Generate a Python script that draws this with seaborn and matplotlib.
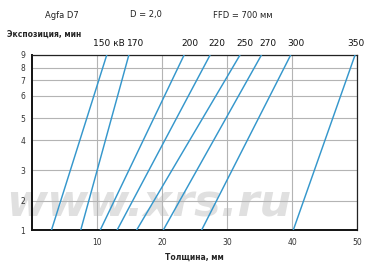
import numpy as np
import pandas as pd
import matplotlib
matplotlib.use("Agg")
import matplotlib.pyplot as plt
import matplotlib.transforms as mtransforms
import seaborn as sns

# ---- data ----
kv_labels = ["150 кВ", "170", "200", "220", "250", "270", "300", "350"]
thick_at_1min = [3.0, 7.5, 10.5, 13.1, 16.1, 20.2, 26.1, 40.2]
thick_at_9min = [11.5, 14.9, 23.4, 27.4, 32.0, 35.3, 39.8, 49.7]
exposure_ends = [1, 9]
label_x = [11.8, 16.0, 24.3, 28.5, 32.8, 36.3, 40.6, 49.8]

# nomogram y-scale (exposure value -> relative position of the printed gridline)
y_ticks = [1, 2, 3, 4, 5, 6, 7, 8, 9]
y_pos = [0, 29.3, 59.7, 90.0, 111.7, 134.3, 149.7, 162.3, 175.0]
x_ticks = [10, 20, 30, 40, 50]

rows = []
for lab, a, b in zip(kv_labels, thick_at_1min, thick_at_9min):
    rows.append({"kv": lab, "t": a, "e": exposure_ends[0]})
    rows.append({"kv": lab, "t": b, "e": exposure_ends[1]})
df = pd.DataFrame(rows)

sns.set_style("white")
plt.rcParams["font.family"] = ["DejaVu Sans"]

yv = np.array([0.0] + y_ticks + [20.0])
yp = np.array([-29.3] + y_pos + [175.0 + 12.7 * 11])
def fwd(y):
    return np.interp(y, yv, yp)
def inv(p):
    return np.interp(p, yp, yv)

fig = plt.figure(figsize=(3.8, 2.64), dpi=100)
ax = fig.add_axes([32/380, 34/264, 325/380, 175/264])
ax.set_yscale("function", functions=(fwd, inv))

# watermark
ax.text(0.36, 0.15, "www.xrs.ru", transform=ax.transAxes, ha="center", va="center",
        fontsize=32, fontweight="bold", fontstyle="italic", color="#e0e0e0", zorder=0,
        clip_on=False)

sns.lineplot(data=df, x="t", y="e", hue="kv", units="kv", estimator=None, sort=False,
             palette=["#3597cc"] * len(kv_labels), legend=False, linewidth=1.05, ax=ax, zorder=3)

ax.set_xlim(0, 50)
ax.set_ylim(1, 9)
ax.set_xticks(x_ticks)
ax.set_xticklabels([str(v) for v in x_ticks])
ax.set_yticks(y_ticks)
ax.set_yticklabels([str(v) for v in y_ticks])
ax.grid(True, color="#b4b4b4", linewidth=0.8, zorder=1)
ax.tick_params(axis="both", labelsize=5.5, colors="#333333", length=3, width=0.6, pad=2)
ax.tick_params(axis="x", pad=3)
for s in ["left", "bottom"]:
    ax.spines[s].set_linewidth(1.4)
    ax.spines[s].set_color("#111111")
for s in ["top", "right"]:
    ax.spines[s].set_linewidth(0.9)
    ax.spines[s].set_color("#222222")
ax.set_xlabel("Толщина, мм", fontsize=5.5, fontweight="bold", labelpad=4)
ax.set_ylabel("")

lab_tr = mtransforms.offset_copy(ax.transData, fig=fig, x=0, y=5, units="points")
for lab, lx in zip(kv_labels, label_x):
    ax.text(lx, 9, lab, transform=lab_tr, ha="center", va="bottom", fontsize=6.5, color="#111111")

fig.text(7/380, 1 - 34/264, "Экспозиция, мин", fontsize=5.5, fontweight="bold", va="center", ha="left")
fig.text(62/380, 1 - 15/264, "Agfa D7", fontsize=6, ha="center", va="center", color="#222222")
fig.text(146/380, 1 - 15/264, "D = 2,0", fontsize=6, ha="center", va="center", color="#222222")
fig.text(243/380, 1 - 15/264, "FFD = 700 мм", fontsize=6, ha="center", va="center", color="#222222")

fig.savefig("out.png", dpi=100, facecolor="white")
